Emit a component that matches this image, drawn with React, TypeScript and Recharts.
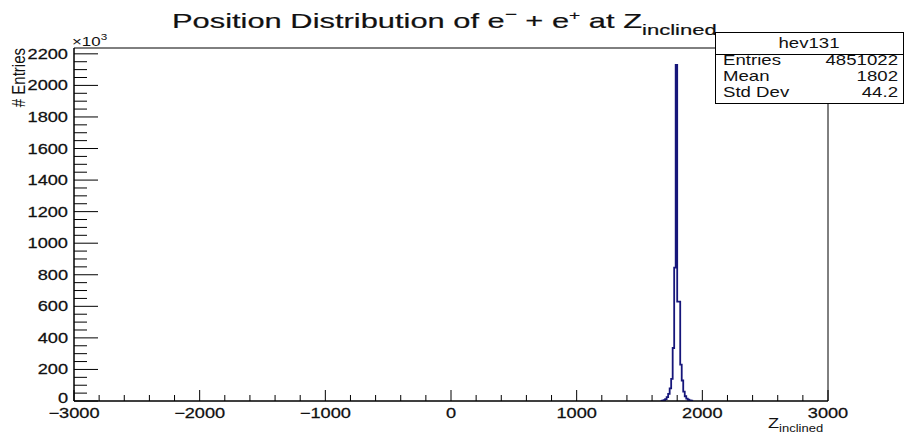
import { Line, LineChart, ReferenceArea, XAxis, YAxis } from "recharts";

// histogram bins (lower edge, width 12), counts in units of 10^3
const binLow = [1668, 1680, 1692, 1704, 1716, 1728, 1740, 1752, 1764, 1776, 1788, 1800, 1812, 1824, 1836, 1848, 1860, 1872, 1884, 1896, 1908, 1920];
const counts = [0, 3, 6, 12, 25, 45, 80, 140, 336, 845, 2130, 630, 630, 230, 130, 60, 30, 15, 8, 4, 2, 0];

const xTicks: number[] = [];
for (let v = -3000; v <= 3000; v += 200) xTicks.push(v);
const yTicks: number[] = [];
for (let v = 0; v <= 2200; v += 50) yTicks.push(v);

const yMax = 2237;

const stats = [
    ["Entries", "4851022"],
    ["Mean", "1802"],
    ["Std Dev", "44.2"],
];

const data = binLow.map((z, i) => ({ z, n: counts[i] }));

const FONT = "'Liberation Sans', Arial, Helvetica, sans-serif";
const INK = "#111";

const YTick = (props: any) => {
    const { x, y, payload } = props;
    const v = payload.value;
    const major = v % 200 === 0;
    return <g>
        <line x1={x} x2={x + (major ? 24 : 13)} y1={y} y2={y} stroke="#000" />
        {major && <text transform={`translate(${x - 6},${y + (v === 0 ? 2 : 5)}) scale(1.3,1)`} textAnchor="end"
            fontFamily={FONT} fontSize={14} fill={INK} stroke={INK} strokeWidth={0.25}>{v}</text>}
    </g>;
};

const XTick = (props: any) => {
    const { x, y, payload } = props;
    const v = payload.value;
    const major = v % 1000 === 0;
    return <g>
        <line x1={x} x2={x} y1={y} y2={y - (major ? 11 : 6)} stroke="#000" />
        {major && <text transform={`translate(${x},${y + 17}) scale(1.3,1)`} textAnchor="middle"
            fontFamily={FONT} fontSize={14} fill={INK} stroke={INK} strokeWidth={0.25}>{v < 0 ? "\u2212" + Math.abs(v) : v}</text>}
    </g>;
};

const App = () => {
    return <div style={{ position: "absolute", left: 0, top: 0, width: 916, height: 435, background: "#fff" }}>
        <LineChart width={916} height={435} data={data} margin={{ top: 48, right: 88, bottom: 0, left: 0 }}>
            <XAxis dataKey="z" type="number" domain={[-3000, 3000]} ticks={xTicks} interval={0} height={34}
                tickSize={0} tickMargin={0} tick={(p: any) => <XTick {...p} />} axisLine={{ stroke: "#000" }} allowDataOverflow />
            <YAxis type="number" domain={[0, yMax]} ticks={yTicks} interval={0} width={74}
                tickSize={0} tickMargin={0} tick={(p: any) => <YTick {...p} />} axisLine={{ stroke: "#000" }} allowDataOverflow />
            <ReferenceArea x1={-3000} x2={3000} y1={0} y2={yMax} fill="none" stroke="#000" ifOverflow="visible" />
            <Line type="stepAfter" dataKey="n" stroke="#16167a" strokeWidth={1.8} dot={false} isAnimationActive={false} />
        </LineChart>

        <svg width={916} height={435} style={{ position: "absolute", left: 0, top: 0, pointerEvents: "none" }}
            fontFamily={FONT} fill={INK}>
            <text transform="translate(172,28) scale(1.47,1)" fontSize={21} stroke={INK} strokeWidth={0.2}>
                Position Distribution of e<tspan fontSize={14} dy={-9}>{"\u2212"}</tspan>
                <tspan dy={9}> + e</tspan><tspan fontSize={13} dy={-8}>+</tspan>
                <tspan dy={8}> at Z</tspan><tspan fontSize={15} dy={7}>inclined</tspan>
            </text>

            <text transform="translate(72,46) scale(1.3,1)" fontSize={13}>
                {"\u00d7"}10<tspan fontSize={9} dy={-6}>3</tspan>
            </text>

            <text transform="translate(25,48) rotate(-90) scale(1,1.25)" fontSize={15} textAnchor="end"># Entries</text>

            <text transform="translate(768,428) scale(1.3,1)" fontSize={14}>
                Z<tspan fontSize={10} dy={4}>inclined</tspan>
            </text>

            <rect x={715.5} y={32.5} width={188} height={71} fill="#fff" stroke="#000" />
            <line x1={715.5} x2={903.5} y1={54.5} y2={54.5} stroke="#000" />
            <text transform="translate(809,48) scale(1.33,1)" fontSize={14} textAnchor="middle">hev131</text>
            {stats.map(([k, v], i) => <g key={k}>
                <text transform={`translate(723,${65 + i * 16}) scale(1.33,1)`} fontSize={14}>{k}</text>
                <text transform={`translate(898,${65 + i * 16}) scale(1.33,1)`} fontSize={14} textAnchor="end">{v}</text>
            </g>)}
        </svg>
    </div>;
};

export default App;
